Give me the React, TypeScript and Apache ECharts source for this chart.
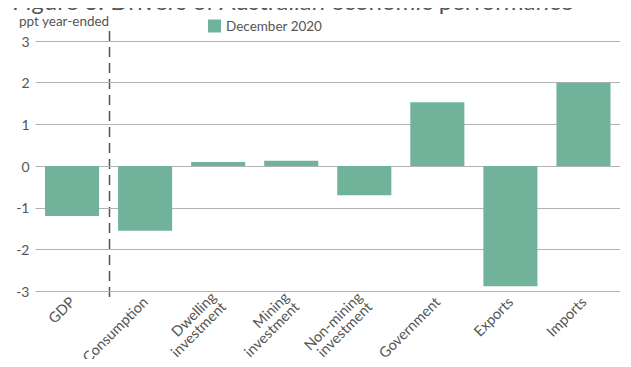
import React, { useEffect, useRef } from "react";
import * as echarts from "echarts";

const categories = [
  "GDP",
  "Consumption",
  "Dwelling\ninvestment",
  "Mining\ninvestment",
  "Non-mining\ninvestment",
  "Government",
  "Exports",
  "Imports",
];
const values = [-1.2, -1.55, 0.1, 0.13, -0.7, 1.53, -2.88, 2.0];
const seriesName = "December 2020";
const titleText = "Figure 3: Drivers of Australian economic performance";
const unitText = "ppt year-ended";

export default function App() {
  const ref = useRef<HTMLDivElement>(null);
  useEffect(() => {
    if (!ref.current) return;
    const chart = echarts.init(ref.current, null, { renderer: "svg" });
    const font = "Lato";
    chart.setOption({
      animation: false,
      textStyle: { fontFamily: font },
      grid: { left: 35.5, right: 11, top: 41, bottom: 74, containLabel: false },
      legend: {
        data: [seriesName],
        left: 203,
        top: 14,
        itemWidth: 13,
        itemHeight: 13,
        itemGap: 4,
        icon: "rect",
        textStyle: { fontFamily: font, fontSize: 13.5, color: "#555" },
      },
      xAxis: {
        type: "category",
        data: categories,
        axisLine: { show: false },
        axisTick: { show: false },
        axisLabel: {
          interval: 0,
          rotate: 45,
          margin: 8,
          fontFamily: font,
          fontSize: 14.5,
          color: "#555",
          lineHeight: 14,
        },
      },
      yAxis: {
        type: "value",
        min: -3,
        max: 3,
        interval: 1,
        axisLine: { show: false },
        axisTick: { show: false },
        axisLabel: { fontFamily: font, fontSize: 14, color: "#555", margin: 6 },
        splitLine: { lineStyle: { color: "#b3b3b3", width: 1 } },
      },
      series: [
        {
          name: seriesName,
          type: "bar",
          data: values,
          barWidth: "74%",
          itemStyle: { color: "#71b39a" },
        },
      ],
      graphic: [
        {
          type: "text",
          x: 12,
          y: 12,
          style: {
            text: titleText,
            textVerticalAlign: "bottom",
            fontFamily: font,
            fontSize: 24,
            fill: "#555",
          },
        },
        {
          type: "text",
          x: 19,
          y: 21,
          style: {
            text: unitText,
            textVerticalAlign: "middle",
            fontFamily: font,
            fontSize: 13.5,
            fill: "#555",
          },
        },
      ],
    });
    const p0 = chart.convertToPixel({ xAxisIndex: 0 }, categories[0]) as number;
    const p1 = chart.convertToPixel({ xAxisIndex: 0 }, categories[1]) as number;
    const xm = Math.round((p0 + p1) / 2) + 0.5;
    chart.setOption({
      graphic: [
        {},
        {},
        {
          type: "line",
          shape: { x1: xm, y1: 31, x2: xm, y2: 299 },
          style: { stroke: "#555", lineWidth: 1.5, lineDash: [10, 6] },
        },
      ],
    });
    return () => chart.dispose();
  }, []);
  return <div ref={ref} style={{ width: 631, height: 367, margin: -8 }} />;
}
